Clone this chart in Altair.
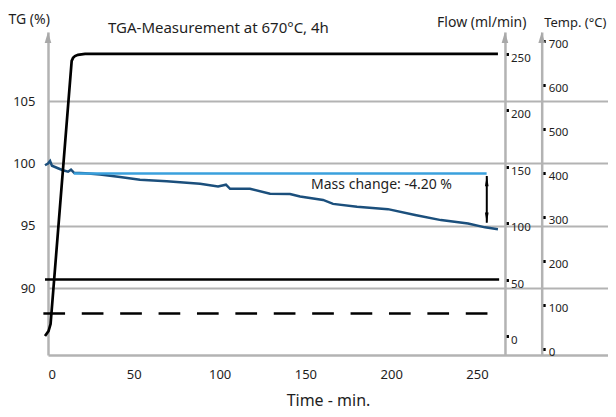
import altair as alt
import pandas as pd

# ---------------- data ----------------
tg_time = [-1.75, 0, 1.2, 2.3, 5.8, 8.7, 11.7, 13.4, 15.2, 21.6, 30.3, 42, 53.6, 69.2,
           82.8, 88.6, 99.1, 103.7, 106.1, 117.7, 129.4, 141, 146.9, 160.3, 166.1,
           180.1, 198.1, 213.9, 229, 244.8, 254.7, 262.2]
tg_value = [99.86, 100.0, 100.2, 99.82, 99.62, 99.46, 99.34, 99.5, 99.25, 99.21, 99.11,
            98.91, 98.70, 98.57, 98.43, 98.38, 98.16, 98.30, 97.97, 97.97, 97.57, 97.55,
            97.35, 97.08, 96.76, 96.54, 96.34, 95.87, 95.46, 95.19, 94.88, 94.73]

temp_time = [-1.75, 0.3, 1.5, 13.8, 14.6, 15.7, 17.5, 21.6, 262.2]
temp_value = [29, 40, 56, 654, 661, 665, 668, 670, 670]

flow_time = [-1.75, 262.9]
flow_value = [50, 50]

flow2_time = [-2.7, 256.4]
flow2_value = [20, 20]

ref_time = [15.0, 255.6]
ref_value = [99.2, 99.2]

arrow_time = 255.7
arrow_top, arrow_bottom = 99.0, 95.25
mass_change_label = "Mass change: -4.20 %"
label_time, label_value = 153.3, 98.3

x_ticks = [0, 50, 100, 150, 200, 250]
tg_ticks = [90, 95, 100, 105]
flow_ticks = [0, 50, 100, 150, 200, 250]
temp_ticks = [0, 100, 200, 300, 400, 500, 600, 700]

# ---------------- layout ----------------
W, H = 560, 323
X_MAX = 326.34
TG_DOM = [84.643, 110.545]
FLOW_DOM = [-16.83, 269.2]
TEMP_DOM = [-14.32, 719.8]
FLOW_AXIS_T = 266.3
TEMP_AXIS_T = 287.7

def offset_for(t):
    return (t - X_MAX) / X_MAX * W

FONT = "Noto Sans"
GRAY = "#b3b3b3"
TXT = "#1e1e1e"
DARK_BLUE = "#1b4f7c"
LIGHT_BLUE = "#3aa0dd"

x_scale = alt.Scale(domain=[0, X_MAX], nice=False, zero=False)
x_axis = alt.Axis(values=x_ticks, grid=False, ticks=False, tickSize=0,
                  domainColor=GRAY, domainWidth=2.5, labelFont=FONT, labelFontSize=13,
                  labelColor=TXT, labelPadding=13, title="Time - min.", titleFont=FONT,
                  titleFontSize=16, titleFontWeight="normal", titleColor=TXT,
                  titleY=50, titleBaseline="alphabetic")

tg_scale = alt.Scale(domain=TG_DOM, nice=False, zero=False)
tg_axis = alt.Axis(orient="left", values=tg_ticks, grid=True, gridColor=GRAY, gridWidth=2,
                   ticks=False, tickSize=0, domainColor=GRAY, domainWidth=2.5,
                   labelFont=FONT, labelFontSize=13, labelColor=TXT, labelPadding=13,
                   title="TG (%)", titleAngle=0, titleX=-40, titleY=-13, titleAlign="left",
                   titleBaseline="middle", titleFont=FONT, titleFontSize=14,
                   titleFontWeight="normal", titleColor=TXT)

flow_scale = alt.Scale(domain=FLOW_DOM, nice=False, zero=False)
flow_axis = alt.Axis(orient="right", offset=offset_for(FLOW_AXIS_T), values=flow_ticks,
                     grid=False, ticks=True, tickSize=3.5, tickWidth=3, tickColor="black",
                     domainColor=GRAY, domainWidth=2.5, labelFont=FONT, labelFontSize=11.5,
                     labelColor=TXT, labelPadding=2, labelOffset=4.5,
                     title="Flow (ml/min)", titleAngle=0, titleX=21, titleY=-10,
                     titleAlign="right", titleBaseline="middle", titleFont=FONT,
                     titleFontSize=14, titleFontWeight="normal", titleColor=TXT)

temp_scale = alt.Scale(domain=TEMP_DOM, nice=False, zero=False)
temp_axis = alt.Axis(orient="right", offset=offset_for(TEMP_AXIS_T), values=temp_ticks,
                     grid=False, ticks=True, tickSize=3.5, tickWidth=3, tickColor="black",
                     domainColor=GRAY, domainWidth=2.5, labelFont=FONT, labelFontSize=11.5,
                     labelColor=TXT, labelPadding=3, labelOffset=3.5,
                     title="Temp. (°C)", titleAngle=0, titleX=2, titleY=-10,
                     titleAlign="left", titleBaseline="middle", titleFont=FONT,
                     titleFontSize=13, titleFontWeight="normal", titleColor=TXT)

X = lambda: alt.X("t:Q", scale=x_scale, axis=x_axis)
Ytg = lambda f="v": alt.Y(f + ":Q", scale=tg_scale, axis=tg_axis)

# ---------------- TG layer ----------------
tg_df = pd.DataFrame({"t": tg_time, "v": tg_value})
ref_df = pd.DataFrame({"t": ref_time, "v": ref_value})
arrow_df = pd.DataFrame({"t": [arrow_time], "v": [arrow_top], "v2": [arrow_bottom]})
head_up = pd.DataFrame({"t": [arrow_time], "v": [arrow_top - 0.4]})
head_down = pd.DataFrame({"t": [arrow_time], "v": [arrow_bottom + 0.4]})
label_df = pd.DataFrame({"t": [label_time], "v": [label_value], "txt": [mass_change_label]})
axis_tip = TG_DOM[1] - 5.5 * (TG_DOM[1] - TG_DOM[0]) / H
axis_arrows = pd.DataFrame({"t": [0, FLOW_AXIS_T, TEMP_AXIS_T], "v": [axis_tip] * 3})

UP = "M0,-1L0.35,1L-0.35,1Z"
DOWN = "M0,1L0.35,-1L-0.35,-1Z"
AX_UP = "M0,-1L0.6,1L-0.6,1Z"

tg_line = alt.Chart(tg_df).mark_line(color=DARK_BLUE, strokeWidth=2.5).encode(x=X(), y=Ytg())
ref_line = alt.Chart(ref_df).mark_line(color=LIGHT_BLUE, strokeWidth=2.5).encode(x=X(), y=Ytg())
arrow_rule = alt.Chart(arrow_df).mark_rule(color="black", strokeWidth=2).encode(
    x=X(), y=Ytg(), y2="v2:Q")
arrow_up = alt.Chart(head_up).mark_point(shape=UP, size=110, filled=True, color="black",
                                         opacity=1).encode(x=X(), y=Ytg())
arrow_down = alt.Chart(head_down).mark_point(shape=DOWN, size=110, filled=True, color="black",
                                             opacity=1).encode(x=X(), y=Ytg())
label = alt.Chart(label_df).mark_text(align="left", baseline="middle", font=FONT,
                                      fontSize=14, color=TXT).encode(
    x=X(), y=Ytg(), text="txt:N")
ax_heads = alt.Chart(axis_arrows).mark_point(shape=AX_UP, size=121, filled=True, color="#a8a8a8",
                                             opacity=1).encode(x=X(), y=Ytg())

tg_layer = alt.layer(tg_line, ref_line, arrow_rule, arrow_up, arrow_down, label, ax_heads)

# ---------------- flow layer ----------------
flow_df = pd.DataFrame({"t": flow_time, "v": flow_value})
flow2_df = pd.DataFrame({"t": flow2_time, "v": flow2_value})
Yfl = lambda: alt.Y("v:Q", scale=flow_scale, axis=flow_axis)
flow_line = alt.Chart(flow_df).mark_line(color="black", strokeWidth=2.5).encode(x=X(), y=Yfl())
flow2_line = alt.Chart(flow2_df).mark_line(color="black", strokeWidth=2.5,
                                           strokeDash=[21.7, 16.7]).encode(x=X(), y=Yfl())
flow_layer = alt.layer(flow_line, flow2_line)

# ---------------- temperature layer ----------------
temp_df = pd.DataFrame({"t": temp_time, "v": temp_value})
temp_layer = alt.Chart(temp_df).mark_line(color="black", strokeWidth=2.7).encode(
    x=X(), y=alt.Y("v:Q", scale=temp_scale, axis=temp_axis))

chart = alt.layer(tg_layer, flow_layer, temp_layer).resolve_scale(y="independent").properties(
    width=W, height=H, autosize="none",
    padding={"left": 40, "top": 24, "right": 0, "bottom": 54},
    title=alt.TitleParams("TGA-Measurement at 670°C, 4h", anchor="start", frame="group",
                          dx=60, dy=28, font=FONT, fontSize=15, fontWeight="normal", color=TXT),
).configure_view(stroke=None)

chart.save("out.html", embed_options={"renderer": "svg", "actions": False})
